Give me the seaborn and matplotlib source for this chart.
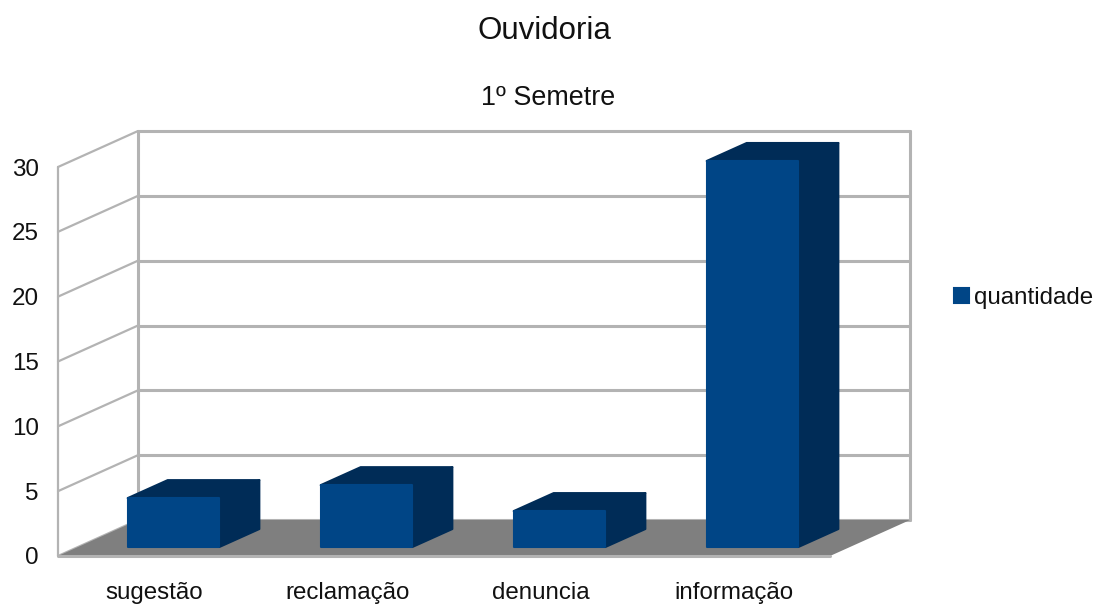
import matplotlib
matplotlib.use("Agg")
import matplotlib.pyplot as plt
import pandas as pd
import seaborn as sns
from matplotlib.patches import Polygon
from matplotlib.transforms import Affine2D

categories = ["sugestão", "reclamação", "denuncia", "informação"]
quantidade = [4, 5, 3, 30]
y_ticks = [0, 5, 10, 15, 20, 25, 30]
series_name = "quantidade"
title = "Ouvidoria"
subtitle = "1º Semetre"

FRONT = "#004586"
DARK = "#002c57"
GRID = "#b3b3b3"
FLOOR = "#7f7f7f"
W, H = 1096, 605
BAR_BASE = 0.23  # bars start slightly above the floor plane

sns.set_theme(style="white", rc={"font.family": ["Liberation Sans", "DejaVu Sans"]})

fig = plt.figure(figsize=(W / 100, H / 100), dpi=100)
ax = fig.add_axes([58 / W, (H - 556) / H, 772 / W, 389 / H])

df = pd.DataFrame({"categoria": categories, series_name: quantidade})
sns.barplot(data=df, x="categoria", y=series_name, color=FRONT, width=0.475, saturation=1,
            label=series_name, ax=ax, zorder=6)
ax.set_ylim(0, 30)
ax.set_xlim(-0.5, 3.5)
ax.set_xlabel("")
ax.set_ylabel("")
ax.set_yticks(y_ticks)
sns.despine(ax=ax, left=True, bottom=True)
ax.patch.set_visible(False)
ax.tick_params(axis="x", length=0, pad=18.5, labelsize=17.4, labelcolor="#111111")
ax.tick_params(axis="y", length=0, pad=14, labelsize=17.4, labelcolor="#111111")

# pixel offsets of the depth planes
back = ax.transData + Affine2D().translate(80, 36)
bar_front = ax.transData + Affine2D().translate(19, 6)
bar_back = ax.transData + Affine2D().translate(59, 24)


def to_pix(trans, x, y):
    return tuple(trans.transform((x, y)))


# floor
ax.add_patch(Polygon([to_pix(ax.transData, -0.5, 0), to_pix(ax.transData, 3.5, 0),
                      to_pix(back, 3.5, 0), to_pix(back, -0.5, 0)],
                     closed=True, transform=None, facecolor=FLOOR, edgecolor="none",
                     clip_on=False, zorder=3))

# back wall and left wall
for tick in y_ticks:
    ax.plot([-0.5, 3.5], [tick, tick], color=GRID, lw=2.2, transform=back, clip_on=False, zorder=2)
    p0 = to_pix(ax.transData, -0.5, tick)
    p1 = to_pix(back, -0.5, tick)
    ax.plot([p0[0], p1[0]], [p0[1], p1[1]], color=GRID, lw=1.6, transform=None, clip_on=False, zorder=2)
ax.plot([-0.5, -0.5], [0, 30], color=GRID, lw=1.6, clip_on=False, zorder=2)
ax.plot([-0.5, 3.5], [0, 0], color=GRID, lw=2.2, clip_on=False, zorder=4)
ax.plot([-0.5, -0.5], [0, 30], color=GRID, lw=2.2, transform=back, clip_on=False, zorder=2)
ax.plot([3.5, 3.5], [0, 30], color=GRID, lw=2.2, transform=back, clip_on=False, zorder=2)

# bars: shift the seaborn rectangles and add their top and side faces
for bar in list(ax.patches):
    if bar.get_zorder() != 6:
        continue
    x0, x1, top = bar.get_x(), bar.get_x() + bar.get_width(), bar.get_height()
    bar.set_y(BAR_BASE)
    bar.set_height(top - BAR_BASE)
    bar.set_transform(bar_front)
    bar.set_clip_on(False)
    bar.set_edgecolor(FRONT)
    bar.set_linewidth(1.5)
    bar.set_joinstyle("round")
    faces = [
        [to_pix(bar_front, x0, top), to_pix(bar_front, x1, top), to_pix(bar_back, x1, top), to_pix(bar_back, x0, top)],
        [to_pix(bar_front, x1, BAR_BASE), to_pix(bar_front, x1, top), to_pix(bar_back, x1, top),
         to_pix(bar_back, x1, BAR_BASE)],
    ]
    for face in faces:
        ax.add_patch(Polygon(face, closed=True, transform=None, facecolor=DARK, edgecolor=DARK,
                             lw=1.5, joinstyle="round", clip_on=False, zorder=5))

leg = ax.legend(loc="center left", bbox_to_anchor=(954 / W, (H - 298) / H), bbox_transform=fig.transFigure,
                frameon=False, fontsize=17.4, handlelength=0.6, handleheight=0.6, handletextpad=0.22,
                borderaxespad=0, borderpad=0)
for txt in leg.get_texts():
    txt.set_color("#111111")

fig.text(544 / W, (H - 31) / H, title, ha="center", va="center", fontsize=22.5, color="#111111")
fig.text(548 / W, (H - 98) / H, subtitle, ha="center", va="center", fontsize=19.4, color="#111111")

fig.savefig("out.png", dpi=100, facecolor="white")
